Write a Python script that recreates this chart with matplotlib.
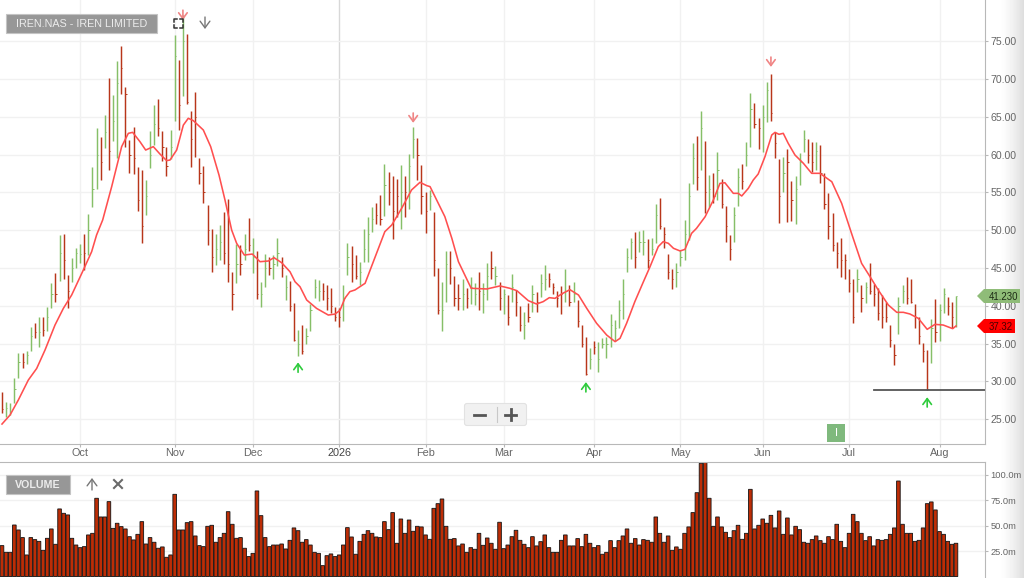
import numpy as np
import matplotlib
matplotlib.use("Agg")
import matplotlib.pyplot as plt
from matplotlib.patches import Polygon, FancyBboxPatch, Rectangle

plt.rcParams['font.family'] = ['Liberation Sans', 'DejaVu Sans']

# daily bars
highs = [28.6,27.3,27.1,30.5,33.7,33.8,34.0,37.2,37.7,38.5,38.5,39.9,43.0,44.3,49.4,49.5,44.1,46.3,47.6,48.2,49.5,
         52.2,58.4,63.5,62.3,65.2,70.1,67.9,72.4,74.3,69.0,61.9,63.7,58.3,58.0,56.6,63.1,66.6,67.4,63.1,61.0,63.3,
         75.8,72.5,78.5,75.9,65.8,68.3,59.6,58.5,53.3,50.2,49.5,50.7,52.4,54.1,44.5,48.2,48.0,49.5,51.6,48.9,47.2,
         43.2,46.9,46.4,46.7,48.9,46.5,44.1,43.3,40.4,36.8,37.4,37.0,40.2,43.5,43.4,43.0,42.7,42.3,39.9,39.7,
         42.8,48.3,47.9,46.7,45.8,50.1,51.7,53.0,53.6,54.7,58.8,57.7,57.2,56.8,58.6,57.1,60.1,63.6,62.2,58.6,55.1,
         55.3,52.4,45.0,43.1,47.2,47.2,43.9,42.9,43.5,42.3,43.8,43.0,44.4,43.0,45.7,47.3,45.3,43.1,42.2,41.4,44.2,
         42.1,40.0,39.2,40.4,42.7,41.8,44.2,45.4,44.3,43.0,42.0,42.6,44.8,42.7,43.2,40.8,37.5,35.9,34.4,35.4,35.2,
         35.7,35.8,38.9,38.1,40.8,43.5,47.7,48.9,49.8,49.9,50.0,48.8,48.9,53.4,54.2,50.4,46.8,44.8,
         45.7,47.4,51.3,56.2,61.5,62.5,65.7,61.8,57.3,57.6,60.3,56.8,53.2,49.3,53.1,58.2,58.8,61.6,68.2,66.8,64.8,
         66.6,69.6,70.7,63.0,59.4,59.7,60.8,56.5,57.1,60.2,63.3,62.1,61.7,61.6,61.3,57.5,54.9,52.3,48.5,49.0,46.8,
         44.9,43.5,44.9,42.7,43.1,45.6,42.9,42.3,41.4,40.5,37.4,34.9,41.1,42.7,43.8,43.5,40.2,38.5,35.1,34.2,38.3,
         40.9,40.2,42.3,41.2,40.5,41.3]
lows = [25.8,25.3,25.5,27.1,30.5,31.7,32.3,34.0,35.7,34.6,36.0,36.6,39.7,40.5,43.3,43.5,39.7,43.2,45.0,45.6,44.7,
        46.7,53.1,55.4,56.6,60.9,58.0,61.8,59.6,68.0,61.0,57.6,57.4,52.6,48.25,52.0,58.2,61.3,62.4,59.2,57.2,59.4,
        64.4,63.3,67.7,66.7,58.4,59.7,56.1,53.6,48.0,44.5,45.4,46.1,45.5,43.2,39.5,43.0,44.1,46.0,47.3,44.3,40.9,
        39.9,42.5,44.1,43.6,45.2,43.8,40.8,39.3,35.4,33.3,33.6,35.0,36.7,41.0,40.6,40.8,39.4,39.0,38.0,37.2,
        38.0,44.1,43.1,43.5,42.7,45.8,45.8,49.8,50.8,50.7,51.9,53.3,48.8,51.7,50.1,51.8,52.8,59.6,56.6,52.2,49.6,
        52.7,43.9,38.9,36.6,40.5,42.9,40.0,39.4,39.5,39.7,40.2,40.1,39.4,39.0,40.8,43.6,42.7,39.4,38.9,37.5,40.5,
        38.7,36.7,35.6,37.9,39.2,39.2,41.1,42.1,42.5,41.6,39.8,38.9,40.5,40.0,40.5,37.2,34.5,30.8,31.6,33.6,31.3,
        34.4,33.1,34.6,35.3,37.0,38.2,44.4,46.2,45.0,47.1,46.7,45.0,46.7,48.3,50.1,47.7,43.5,42.2,
        42.5,45.2,46.0,48.7,56.1,55.3,57.9,52.3,53.1,53.6,54.0,52.9,48.4,46.0,48.5,53.2,55.5,58.5,61.0,63.5,60.7,
        60.3,64.3,64.4,59.6,51.0,55.1,51.1,51.2,50.8,56.0,60.3,58.9,57.7,58.0,56.3,52.8,48.8,47.2,45.0,43.8,43.5,
        41.8,37.7,41.8,39.2,40.3,41.6,40.0,38.1,37.0,37.9,34.5,32.2,36.3,40.3,40.2,40.4,37.0,34.9,32.5,28.8,32.4,
        35.2,35.4,39.1,38.8,37.1,37.2]
closes = [26.3,26.5,26.0,29.0,32.5,32.5,33.5,36.0,36.5,36.5,
          36.8,38.5,41.5,41.5,47.0,46.0,42.0,45.0,47.0,46.8,
          47.0,50.0,55.5,60.0,59.0,63.0,60.5,64.5,69.5,71.5,
          68.0,60.0,59.5,54.0,50.5,54.5,60.0,64.0,63.5,61.0,
          58.5,61.0,73.0,66.5,75.0,67.0,62.0,65.0,57.5,55.0,
          50.0,46.5,47.5,48.5,47.0,45.5,41.5,45.5,45.5,47.5,
          48.0,46.5,41.5,41.5,45.0,45.0,45.5,47.0,45.0,42.5,
          40.0,35.5,35.0,34.0,36.0,39.5,42.5,42.0,42.0,41.0,
          40.0,38.5,38.5,41.0,46.5,45.5,44.0,44.5,47.5,49.5,
          51.5,52.0,51.5,56.0,55.0,52.5,54.5,55.0,55.0,58.5,
          62.0,60.0,54.5,52.5,54.5,46.0,39.5,39.5,45.5,45.0,
          41.0,41.0,41.5,41.0,42.5,41.5,42.0,41.5,44.0,45.0,
          44.0,41.0,41.5,38.5,42.5,40.5,37.5,37.5,38.5,41.5,
          40.5,43.0,43.5,43.5,42.5,41.0,41.5,42.0,40.5,41.5,
          38.0,35.0,31.0,33.0,34.5,33.0,35.0,35.0,37.5,37.0,
          39.5,41.5,46.5,48.5,46.5,48.5,48.5,46.0,47.5,52.0,
          50.5,49.5,44.5,43.5,44.5,46.5,49.5,54.5,59.5,57.0,
          63.5,55.0,55.5,54.5,58.0,53.5,50.5,47.5,52.0,57.0,
          56.5,60.0,66.0,64.0,63.5,65.0,68.5,65.5,61.5,54.5,
          57.5,59.0,54.0,55.5,59.0,62.0,60.0,59.0,60.5,57.5,
          53.5,50.5,48.0,47.0,46.0,46.0,43.0,38.5,43.5,41.0,
          42.5,42.0,41.5,39.0,38.5,38.5,35.5,33.5,40.0,42.0,
          41.0,40.5,38.5,36.0,34.0,29.0,37.0,36.5,39.5,41.5,
          40.0,38.5,41.23]
# g = up day, r = down day
bar_dirs = ("rggggrggrg" "rggrgrrggg" "rgggrgrggr" "rrrrrgggrr" "rggrgrrrrr" "rrggrrrgrg" "rgrggrggrg" "rrgrggggrr"
            "rrrggrrggg" "grrgrrrgrg" "grrrgrrggr" "rrgrggrggr" "grgrgrrgrg" "rggrrrrgrg" "rrrgrggggg" "ggggrggrgg"
            "rrrrgggggr" "grgrgrrrgg" "rggrrggrrr" "grrgggrrgr" "rrrrrrrrgr" "grrrrrrrgg" "rrrrrrgrgg" "rrg")
tick_idx = [19, 42, 61, 82, 103, 122, 144, 165, 185, 206, 228]
tick_labels = ['Oct', 'Nov', 'Dec', '2026', 'Feb', 'Mar', 'Apr', 'May', 'Jun', 'Jul', 'Aug']
price_ticks = [25, 30, 35, 40, 45, 50, 55, 60, 65, 70, 75]
vol_ticks = [25, 50, 75, 100]

ma_idx = [0,1.95,3.97,6.4,8.43,10.46,12.89,14.92,16.94,19.78,21.8,23,24.48,26.67,29.1,30.72,31.78,33.56,34.94,36.8,
          38.4,40.05,40.86,42.48,44.1,45.3,46.53,48.96,50.75,52.77,54.23,55.85,57.07,58.93,60.88,62.74,64.77,66.15,
          68,70.04,71.26,72.47,74.1,76.5,79.36,81,82.2,83.4,84.6,85.85,88.3,90.3,93.1,94.8,97.2,99.6,101.65,103.3,
          104.1,105.7,107.7,109.4,111,114.1,117.9,121.1,123.5,125.2,128,130,131.6,133.1,134.5,136.1,138.1,140.2,
          142.2,144.6,147.05,149.1,150.3,151.9,153.9,156,157.6,159.6,160.8,162.05,163.3,164.9,166.1,167.7,168.9,
          171,173,174.6,175.8,177.85,179.05,179.9,181.5,182.7,183.9,185.55,187.2,188,188.95,190,191.2,192.85,194.9,
          196.9,198.9,201.8,204.2,206.6,209.05,211.1,213.1,215.55,217.6,219.2,220.8,222.85,225,226.9,228.9,231.2,232]
ma_val = [24.35,25.54,27.53,30.17,31.7,34.14,37.45,39.65,41.42,44.73,47.15,49.36,51.34,55.75,61.05,62.81,62.94,61.7,
          60.6,61.05,60.08,59.2,59.28,60.6,63.9,64.8,64.49,63.25,61.05,57.3,53.99,50.02,48.25,46.71,46.84,45.83,45.92,
          46.36,45.7,44.5,43.18,42.52,40.76,39.65,38.77,38.9,39.4,41.0,41.87,42.09,42.97,45.83,49.8,50.69,52.9,55.32,
          56.33,55.89,55.76,54.0,51.79,48.92,45.83,42.31,42.22,42.62,42.31,42.0,40.67,40.23,40.54,41.07,40.98,41.56,
          42.13,41.42,39.66,37.68,36.13,35.25,35.69,37.68,40.54,43.19,45.17,47.82,48.48,48.26,47.6,47.25,47.46,49.58,
          50.24,51.78,53.99,56.19,56.28,54.87,54.87,54.52,55.53,56.63,57.43,59.72,62.59,62.94,62.68,62.81,61.49,59.94,
          58.84,57.52,57.52,56.41,53.55,49.58,45.61,43.85,42.08,40.1,39.13,39.13,38.91,38.33,36.88,37.54,37.45,36.97,37.32]

volumes = [30.4,23.8,23.8,50.7,45.8,38.3,21.2,38.3,36.3,34.6,
           25.8,37.6,46.8,31.7,66.5,62.2,60.6,37.6,31.0,28.4,
           29.4,40.9,42.5,77.0,58.6,58.6,73.7,47.4,52.4,49.1,
           46.8,39.2,36.0,41.5,54.0,32.0,38.3,33.7,27.8,29.1,
           18.9,21.2,80.9,45.8,45.8,53.0,54.0,39.9,30.4,29.4,
           49.4,50.4,33.7,38.3,42.5,63.8,51.4,37.6,38.3,27.8,
           19.6,22.8,84.2,59.9,38.3,29.4,31.0,31.0,32.0,27.1,
           35.6,47.8,45.1,33.7,36.3,31.0,23.8,22.8,10.7,20.5,
           22.2,19.6,21.2,31.0,48.1,38.9,21.9,34.6,41.5,45.1,
           42.5,38.9,38.3,54.0,46.1,62.9,32.7,56.6,42.5,55.6,
           44.5,49.4,48.8,40.9,36.6,67.1,71.7,76.3,49.4,36.6,
           37.3,30.1,32.0,23.8,28.4,26.8,42.5,30.7,37.9,32.7,
           26.8,53.4,27.4,31.0,39.2,
           45.5,35.6,31.7,28.4,39.2,30.1,34.3,40.9,28.4,23.8,
           23.8,35.6,40.9,30.1,30.1,37.3,29.4,41.5,32.7,28.4,
           30.4,21.9,23.8,35.3,28.4,35.3,39.9,46.8,32.7,37.3,
           31.0,36.3,35.6,33.7,58.6,42.5,33.7,39.9,25.8,29.1,
           26.8,42.5,48.8,62.9,82.5,111.4,113.7,77.0,49.4,58.6,
           48.8,43.5,38.3,45.1,50.4,36.6,42.5,85.8,46.8,50.4,
           56.6,52.4,60.2,47.8,64.5,41.5,57.6,40.9,49.4,46.1,
           33.7,32.7,36.3,39.9,35.3,32.7,39.2,36.3,51.4,34.6,
           28.4,42.5,61.2,54.0,42.5,35.3,39.2,30.1,36.3,35.6,
           36.3,41.5,47.8,94.0,51.4,42.5,42.5,34.6,35.6,47.8,
           71.7,73.4,65.5,44.2,41.5,34.6,31.7,32.7]

support_price = 28.8
support_from = 212
sell_arrows = [(44, 79.1), (100, 65.5), (187, 72.9)]
buy_arrows = [(72, 32.5), (142, 29.9), (225, 27.9)]

W, H = 1024, 578
n = len(highs)
assert len(lows) == n and len(closes) == n and len(bar_dirs) == n and len(volumes) == n
idx = np.arange(n)
highs = np.array(highs)
lows = np.array(lows)
closes = np.array(closes)
green_mask = np.array([d == 'g' for d in bar_dirs])

fig = plt.figure(figsize=(W / 100, H / 100), dpi=100)
fig.patch.set_facecolor('white')

# soft edge on the right of the page, behind everything
bg = fig.add_axes([0, 0, 1, 1], zorder=-1)
bg.axis('off')
grad = (1 - 0.13 * np.linspace(0, 1, 26) ** 1.5).reshape(1, -1)
bg.imshow(grad, extent=(998, 1024, H, 0), cmap='gray', vmin=0, vmax=1, aspect='auto')
bg.set_xlim(0, W)
bg.set_ylim(H, 0)

def panel(top, bottom):
    return fig.add_axes([0, 1 - bottom / H, 985 / W, (bottom - top) / H])

GRID = '#f1f1f1'
AXIS = '#b8b8b8'
LABEL = '#666666'
GREEN = '#86bf68'
RED = '#b8361a'
xlim = (-0.486, 239.06)

## price panel
ax = panel(0, 444)
ax.set_xlim(*xlim)
ax.set_ylim(21.71, 80.45)
ax.set_yticks(price_ticks)
ax.set_yticklabels([f"{p:.2f}" for p in price_ticks])
ax.set_xticks(tick_idx)
ax.set_xticklabels(tick_labels)
ax.grid(True, color=GRID, lw=1)
ax.set_axisbelow(True)
ax.get_xgridlines()[3].set_color('#d8d8d8')

for mask, col in ((green_mask, GREEN), (~green_mask, RED)):
    ax.vlines(idx[mask], lows[mask], highs[mask], color=col, lw=1.05, zorder=2)
    ax.hlines(closes[mask], idx[mask], idx[mask] + 0.3, color=col, lw=0.7, zorder=2)
ax.plot(ma_idx, ma_val, color='#ff4f4f', lw=1.15, zorder=3)
ax.plot([support_from, xlim[1]], [support_price, support_price], color='#555555', lw=1.3, zorder=3)

ARROW = '->,head_length=0.3,head_width=0.22'
for i, p in sell_arrows:
    ax.annotate('', xy=(i, p - 1.3), xytext=(i, p), zorder=4,
                arrowprops=dict(arrowstyle=ARROW, color='#f08585', lw=1.2, mutation_scale=14, shrinkA=0, shrinkB=0))
for i, p in buy_arrows:
    ax.annotate('', xy=(i, p), xytext=(i, p - 1.3), zorder=4,
                arrowprops=dict(arrowstyle=ARROW, color='#2ecb3c', lw=1.2, mutation_scale=14, shrinkA=0, shrinkB=0))

## volume panel
ax_vol = panel(461.5, 576.5)
ax_vol.set_xlim(*xlim)
ax_vol.set_ylim(0, 113.2)
ax_vol.set_yticks(vol_ticks)
ax_vol.set_yticklabels([f"{v:.1f}m" for v in vol_ticks])
ax_vol.set_xticks([])
ax_vol.grid(True, axis='y', color=GRID, lw=1)
ax_vol.set_axisbelow(True)
bars = ax_vol.bar(idx, volumes, width=0.88, color='#bd2d06', edgecolor='#151515', lw=0.62, zorder=2)
for b in bars:
    b.set_snap(False)

for a in (ax, ax_vol):
    a.patch.set_alpha(0)
    a.yaxis.tick_right()
    a.tick_params(axis='both', length=2.5, width=0.8, color=AXIS, labelcolor=LABEL, labelsize=7.6, pad=1.5)
    a.spines['left'].set_visible(False)
    a.spines['top'].set_visible(False)
    a.spines['right'].set_color(AXIS)
    a.spines['bottom'].set_color(AXIS)
ax_vol.spines['top'].set_visible(True)
ax_vol.spines['top'].set_color(AXIS)
ax_vol.spines['bottom'].set_visible(False)
ax_vol.tick_params(axis='y', labelsize=6.7)
ax.tick_params(axis='x', labelsize=7.8, pad=0.5)
ax.get_xticklabels()[3].set_color('#444444')

## page furniture in pixel coordinates
ov = fig.add_axes([0, 0, 1, 1], zorder=10)
ov.patch.set_alpha(0)
ov.axis('off')
ov.set_xlim(0, W)
ov.set_ylim(H, 0)

def badge(x0, y0, x1, y1, text, size, weight):
    ov.add_patch(Rectangle((x0, y0), x1 - x0, y1 - y0, fc='#979797', ec='#c4c4c4', lw=0.8))
    ov.text((x0 + x1) / 2, (y0 + y1) / 2 + 0.3, text, color='#ececec', fontsize=size, fontweight=weight,
            ha='center', va='center')

badge(6, 13.5, 157, 33, 'IREN.NAS - IREN LIMITED', 7.75, 'normal')
badge(6, 474.5, 70, 494, 'VOLUME', 7.7, 'bold')

def arrow_icon(x, y0, y1):
    ov.annotate('', xy=(x, y1), xytext=(x, y0),
                arrowprops=dict(arrowstyle=ARROW, color='#777777', lw=1.0, mutation_scale=16, shrinkA=0, shrinkB=0))

arrow_icon(205, 17, 29)
arrow_icon(92, 490, 478)
ov.plot([114, 122], [480, 488], color='#6a6a6a', lw=1.5)
ov.plot([114, 122], [488, 480], color='#6a6a6a', lw=1.5)
# full screen corners
for cx, cy, dx, dy in [(174, 19, 1, 1), (183, 19, -1, 1), (174, 28, 1, -1), (183, 28, -1, -1)]:
    ov.plot([cx + 3 * dx, cx, cx], [cy, cy, cy + 3 * dy], color='#333333', lw=1.1)

# zoom buttons
ov.add_patch(FancyBboxPatch((466, 405), 59, 19, boxstyle='round,pad=1.5,rounding_size=2.5', fc='#f1f1f1', ec='#e2e2e2', lw=0.8))
ov.plot([474, 485], [414.5, 414.5], color='#555555', lw=2)
ov.plot([505, 516], [414.5, 414.5], color='#555555', lw=2)
ov.plot([510.5, 510.5], [409, 420], color='#555555', lw=2)
ov.plot([496.5, 496.5], [407, 422], color='#c8c8c8', lw=0.8)

# event badge
ov.add_patch(Rectangle((827, 424), 18, 18, fc='#7fb97d', ec='none'))
ov.text(836, 433, 'I', color='white', fontsize=8, ha='center', va='center')

# last price flags
ov.add_patch(Polygon([(977, 296), (984, 289), (1020, 289), (1020, 303), (984, 303)], fc='#8fbc78', ec='none'))
ov.text(1003.5, 296.5, '41.230', color='#1c2a14', fontsize=6.9, ha='center', va='center')
ov.add_patch(Polygon([(977, 326), (984, 319), (1015, 319), (1015, 333), (984, 333)], fc='#ff0000', ec='none'))
ov.text(1001, 326.5, '37.32', color='#4a0000', fontsize=6.9, ha='center', va='center')

fig.savefig('out.png', dpi=100)
